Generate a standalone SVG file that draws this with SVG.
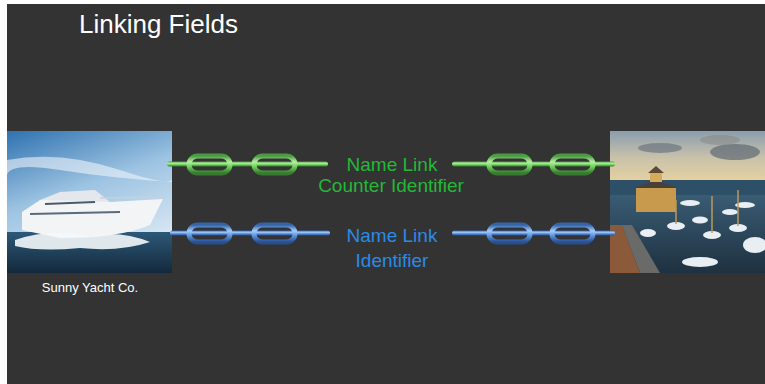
<svg xmlns="http://www.w3.org/2000/svg" width="765" height="384" viewBox="0 0 765 384">
<defs>
<style>
.title{font-family:"Liberation Sans",Arial,sans-serif;font-size:26px;fill:#ffffff}
.cap{font-family:"Liberation Sans",Arial,sans-serif;font-size:13px;fill:#ffffff}
.lbl{font-family:"Liberation Sans",Arial,sans-serif;font-size:19px;text-anchor:middle}
.g{fill:#25b838}
.b{fill:#2a8be6}
.glink{fill:none;stroke:url(#gGrad);stroke-width:5}
.blink{fill:none;stroke:url(#bGrad);stroke-width:5}
.gbar{fill:url(#gGrad)}
.bbar{fill:url(#bGrad)}
</style>
<linearGradient id="gGrad" x1="0" y1="0" x2="0" y2="1">
<stop offset="0" stop-color="#4a9a40"/>
<stop offset="0.35" stop-color="#b4f0a0"/>
<stop offset="0.65" stop-color="#6ccc5a"/>
<stop offset="1" stop-color="#357a2e"/>
</linearGradient>
<linearGradient id="bGrad" x1="0" y1="0" x2="0" y2="1">
<stop offset="0" stop-color="#3464a8"/>
<stop offset="0.35" stop-color="#a4ccf8"/>
<stop offset="0.65" stop-color="#5890dc"/>
<stop offset="1" stop-color="#284e92"/>
</linearGradient>
<linearGradient id="sky1" x1="0" y1="0" x2="0.4" y2="1">
<stop offset="0" stop-color="#2f72b0"/>
<stop offset="0.5" stop-color="#9ec4e2"/>
<stop offset="1" stop-color="#dbe9f4"/>
</linearGradient>
<linearGradient id="sea1" x1="0" y1="0" x2="0" y2="1">
<stop offset="0" stop-color="#2c5878"/>
<stop offset="1" stop-color="#14293c"/>
</linearGradient>
<linearGradient id="sky2" x1="0" y1="0" x2="0" y2="1">
<stop offset="0" stop-color="#8a9eae"/>
<stop offset="0.45" stop-color="#c9c2aa"/>
<stop offset="1" stop-color="#f3d79a"/>
</linearGradient>
<linearGradient id="water2" x1="0" y1="0" x2="0" y2="1">
<stop offset="0" stop-color="#3a5c74"/>
<stop offset="1" stop-color="#1e3140"/>
</linearGradient>
<clipPath id="clipL"><rect x="7" y="131" width="165" height="142"/></clipPath>
<clipPath id="clipR"><rect x="610" y="131" width="155" height="142"/></clipPath>
</defs>

<rect x="0" y="0" width="765" height="384" fill="#ffffff"/>
<rect x="7" y="4" width="758" height="380" fill="#333333"/>

<g id="title">
<text class="title" x="79" y="33">Linking Fields</text>
</g>

<g id="node-yacht">
<g clip-path="url(#clipL)">
<rect x="7" y="131" width="165" height="142" fill="url(#sky1)"/>
<path d="M7 160 Q60 150 120 170 T172 175 L172 182 Q110 178 60 170 T7 175 Z" fill="#eef4fa" opacity="0.6"/>
<rect x="7" y="232" width="165" height="41" fill="url(#sea1)"/>
<path d="M22 212 L40 200 L90 196 L110 202 L163 199 L150 225 Q120 238 60 238 L22 230 Z" fill="#f2f4f6"/>
<path d="M40 200 L60 192 L95 190 L110 202 Z" fill="#e4e8ec"/>
<path d="M100 198 L163 197" stroke="#c8d0d8" stroke-width="1.5"/>
<path d="M30 214 L120 212" stroke="#5a6a78" stroke-width="2"/>
<path d="M45 204 L95 202" stroke="#4a5a68" stroke-width="2"/>
<path d="M15 240 Q50 228 90 236 Q120 230 150 242 Q120 252 80 248 Q40 252 15 246 Z" fill="#f5f8fb" opacity="0.9"/>
</g>
<text class="cap" x="90" y="292" text-anchor="middle">Sunny Yacht Co.</text>
</g>

<g id="node-marina">
<g clip-path="url(#clipR)">
<rect x="610" y="131" width="155" height="60" fill="url(#sky2)"/>
<ellipse cx="660" cy="148" rx="22" ry="5" fill="#6c7680" opacity="0.7"/>
<ellipse cx="735" cy="152" rx="25" ry="8" fill="#606a74" opacity="0.7"/>
<ellipse cx="720" cy="140" rx="20" ry="5" fill="#8a8a88" opacity="0.6"/>
<rect x="610" y="180" width="155" height="15" fill="#2e4f68"/>
<rect x="610" y="195" width="155" height="78" fill="url(#water2)"/>
<rect x="636" y="188" width="40" height="24" fill="#c89a4e"/>
<path d="M634 188 L656 180 L678 188 Z" fill="#4a4038"/>
<rect x="650" y="172" width="12" height="10" fill="#d6ac5a"/>
<path d="M648 173 L656 166 L664 173 Z" fill="#5a4a3a"/>
<path d="M610 225 L622 225 L640 273 L610 273 Z" fill="#8a5a3a"/>
<path d="M622 225 L632 225 L660 273 L640 273 Z" fill="#6a6a68"/>
<g fill="#e8eef2">
<ellipse cx="648" cy="233" rx="8" ry="4"/>
<ellipse cx="676" cy="226" rx="9" ry="4"/>
<ellipse cx="700" cy="220" rx="8" ry="3.5"/>
<ellipse cx="712" cy="235" rx="9" ry="4"/>
<ellipse cx="738" cy="228" rx="9" ry="4"/>
<ellipse cx="730" cy="212" rx="8" ry="3"/>
<ellipse cx="755" cy="245" rx="12" ry="8"/>
<ellipse cx="700" cy="262" rx="18" ry="5"/>
<ellipse cx="690" cy="203" rx="10" ry="3"/>
<ellipse cx="745" cy="205" rx="10" ry="3"/>
</g>
<g stroke="#b89a5a" stroke-width="1.5">
<line x1="676" y1="224" x2="676" y2="200"/>
<line x1="712" y1="233" x2="712" y2="196"/>
<line x1="738" y1="226" x2="738" y2="190"/>
</g>
</g>
</g>

<g id="connectors">
<g id="chain-green-left">
<rect class="gbar" x="167" y="161.5" width="161" height="5" rx="2.5"/>
<rect class="glink" x="189" y="156" width="41" height="17" rx="8.5"/>
<rect class="glink" x="254" y="156" width="41" height="17" rx="8.5"/>
</g>
<g id="chain-green-right">
<rect class="gbar" x="452" y="161.5" width="163" height="5" rx="2.5"/>
<rect class="glink" x="489" y="156" width="41" height="17" rx="8.5"/>
<rect class="glink" x="552" y="156" width="41" height="17" rx="8.5"/>
</g>
<g id="chain-blue-left">
<rect class="bbar" x="170" y="230.5" width="160" height="5" rx="2.5"/>
<rect class="blink" x="189" y="225" width="41" height="17" rx="8.5"/>
<rect class="blink" x="254" y="225" width="41" height="17" rx="8.5"/>
</g>
<g id="chain-blue-right">
<rect class="bbar" x="452" y="230.5" width="163" height="5" rx="2.5"/>
<rect class="blink" x="489" y="225" width="41" height="17" rx="8.5"/>
<rect class="blink" x="552" y="225" width="41" height="17" rx="8.5"/>
</g>
</g>

<g id="label-green">
<text class="lbl g" x="392" y="171">Name Link</text>
<text class="lbl g" x="391" y="192">Counter Identifier</text>
</g>
<g id="label-blue">
<text class="lbl b" x="392" y="242">Name Link</text>
<text class="lbl b" x="392" y="267">Identifier</text>
</g>
</svg>
